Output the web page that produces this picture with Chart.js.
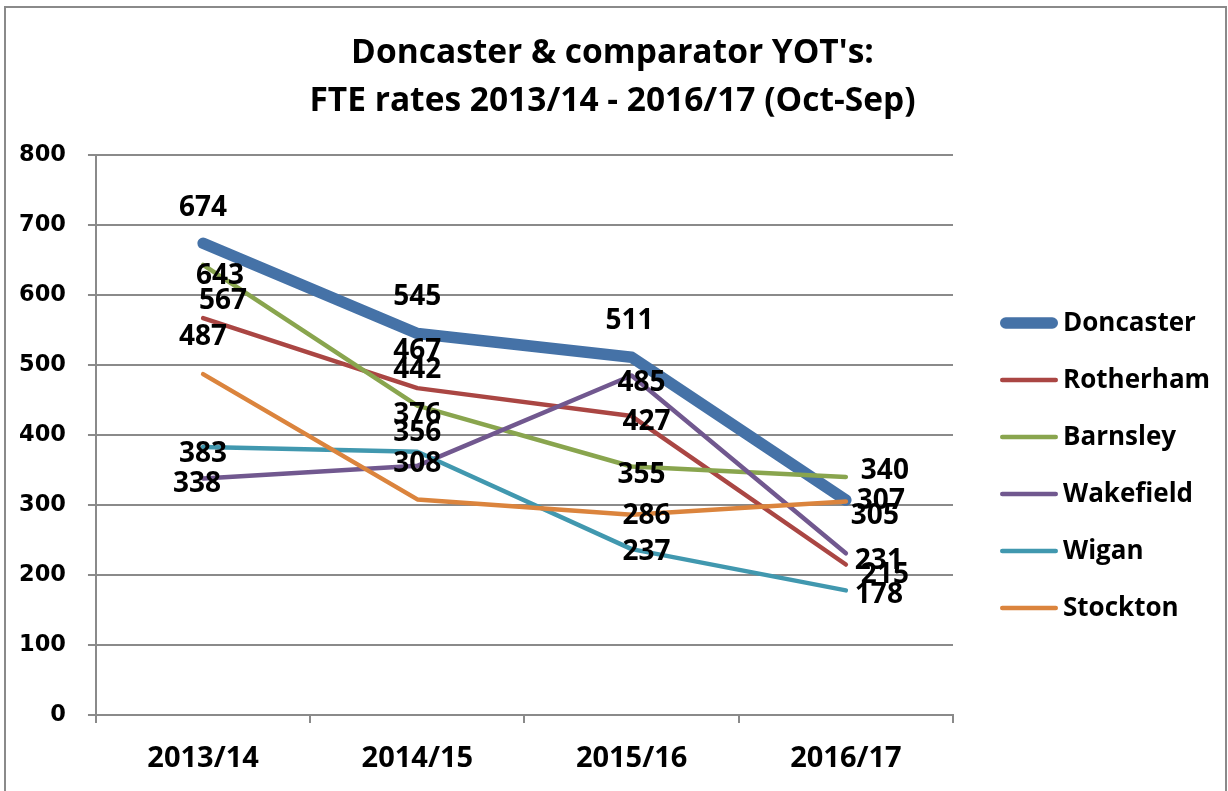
<!DOCTYPE html>
<html>
<head>
<meta charset="utf-8">
<script src="https://cdn.jsdelivr.net/npm/chart.js@4"></script>
<style>
  html, body { margin: 0; padding: 0; background: #fff; }
  #wrap { width: 1228px; height: 791px; }
</style>
</head>
<body>
<div id="wrap"><canvas id="canvas" width="1228" height="791"></canvas></div>
<script>
var categories = ["2013/14", "2014/15", "2015/16", "2016/17"];
var seriesNames = ["Doncaster", "Rotherham", "Barnsley", "Wakefield", "Wigan", "Stockton"];
var doncaster = [674, 545, 511, 307];
var rotherham = [567, 467, 427, 215];
var barnsley = [643, 442, 355, 340];
var wakefield = [338, 356, 485, 231];
var wigan = [383, 376, 237, 178];
var stockton = [487, 308, 286, 305];
var yTicks = [0, 100, 200, 300, 400, 500, 600, 700, 800];

var seriesValues = [doncaster, rotherham, barnsley, wakefield, wigan, stockton];
var colors = ["#4572A7", "#AA4643", "#89A54E", "#71588F", "#4198AF", "#DB843D"];
var widths = [11.5, 4.5, 4.5, 4.5, 4.5, 4.5];

// label nudges [dx, dy] per point, in pixels, relative to the point
var labelOffsets = [
    [[0, -35], [0, -36], [-2, -36], [35, 1]],
    [[20, -17], [0, -37], [15, 6], [39, 11]],
    [[17, 11], [0, -36], [10, 9], [39, -6]],
    [[-6, 6], [0, -33], [10, 8], [33, 8]],
    [[0, 7], [0, -37], [15, 3], [33, 5]],
    [[0, -37], [0, -35], [15, 1], [29, 15]]
];

var gridColor = "#8a8a8a";

var frame = {
    id: "frame",
    beforeDraw: function (chart) {
        var ctx = chart.ctx;
        ctx.save();
        ctx.fillStyle = "#fff";
        ctx.fillRect(0, 0, chart.width, chart.height);
        ctx.strokeStyle = "#8a8a8a";
        ctx.lineWidth = 2;
        ctx.strokeRect(5, 7, 1221, 800);
        ctx.restore();
    }
};

var valueLabels = {
    id: "valueLabels",
    afterDatasetsDraw: function (chart) {
        var ctx = chart.ctx;
        ctx.save();
        ctx.font = "bold 28px 'Open Sans'";
        ctx.fillStyle = "#000";
        ctx.textAlign = "center";
        ctx.textBaseline = "middle";
        chart.data.datasets.forEach(function (ds, i) {
            var meta = chart.getDatasetMeta(i);
            meta.data.forEach(function (pt, j) {
                var off = labelOffsets[i][j];
                ctx.fillText(String(ds.data[j]), pt.x + off[0], pt.y + off[1]);
            });
        });
        ctx.restore();
    }
};

var sideLegend = {
    id: "sideLegend",
    afterDraw: function (chart) {
        var ctx = chart.ctx;
        var x0 = 1000, y0 = 323, step = 57;
        ctx.save();
        ctx.font = "bold 26px 'Open Sans'";
        ctx.textAlign = "left";
        ctx.textBaseline = "middle";
        ctx.lineCap = "round";
        chart.data.datasets.forEach(function (ds, i) {
            var y = y0 + i * step;
            ctx.strokeStyle = ds.borderColor;
            ctx.lineWidth = ds.borderWidth;
            ctx.beginPath();
            ctx.moveTo(x0 + ds.borderWidth / 2, y);
            ctx.lineTo(x0 + 58 - ds.borderWidth / 2, y);
            ctx.stroke();
            ctx.fillStyle = "#000";
            ctx.fillText(ds.label, x0 + 63, y + 1);
        });
        ctx.restore();
    }
};

var config = {
    type: "line",
    data: {
        labels: categories,
        datasets: seriesNames.map(function (name, i) {
            return {
                label: name,
                data: seriesValues[i],
                borderColor: colors[i],
                backgroundColor: colors[i],
                borderWidth: widths[i],
                borderCapStyle: "round",
                borderJoinStyle: "round",
                pointRadius: 0,
                pointHoverRadius: 0,
                tension: 0,
                fill: false,
                order: seriesNames.length - i
            };
        })
    },
    options: {
        responsive: false,
        animation: false,
        layout: {
            padding: { left: -3, right: 0, top: 29, bottom: -3 }
        },
        plugins: {
            legend: { display: false },
            tooltip: { enabled: false },
            title: {
                display: true,
                text: ["Doncaster & comparator YOT's:", "FTE rates 2013/14 - 2016/17 (Oct-Sep)"],
                color: "#000",
                font: { family: "'Open Sans'", size: 33.5, weight: "bold", lineHeight: 1.433 },
                padding: { top: 0, bottom: 30 }
            }
        },
        scales: {
            x: {
                offset: true,
                grid: {
                    display: true,
                    offset: true,
                    drawOnChartArea: false,
                    drawTicks: true,
                    tickLength: 8,
                    color: gridColor,
                    lineWidth: 2
                },
                border: { display: true, color: gridColor, width: 2 },
                ticks: {
                    color: "#000",
                    padding: 21,
                    maxRotation: 0,
                    font: { family: "'Open Sans'", size: 29, weight: "bold", lineHeight: 1 }
                }
            },
            y: {
                min: 0,
                max: 800,
                afterBuildTicks: function (axis) {
                    axis.ticks = yTicks.map(function (v) { return { value: v }; });
                },
                grid: {
                    color: gridColor,
                    lineWidth: 2,
                    drawTicks: true,
                    tickLength: 8
                },
                border: { display: true, color: gridColor, width: 2 },
                ticks: {
                    color: "#000",
                    padding: 22,
                    font: { family: "'DejaVu Sans'", size: 22.5, weight: "bold" }
                }
            },
            // empty right-hand box that keeps room for the legend
            legendSpace: {
                type: "linear",
                position: "right",
                display: true,
                grid: { display: false, drawTicks: false },
                border: { display: false },
                ticks: { display: false },
                afterFit: function (scale) { scale.width = 275; }
            }
        }
    },
    plugins: [frame, valueLabels, sideLegend]
};

window.onload = function () {
    var ctx = document.getElementById("canvas").getContext("2d");
    window.myLine = new Chart(ctx, config);
};
</script>
</body>
</html>
